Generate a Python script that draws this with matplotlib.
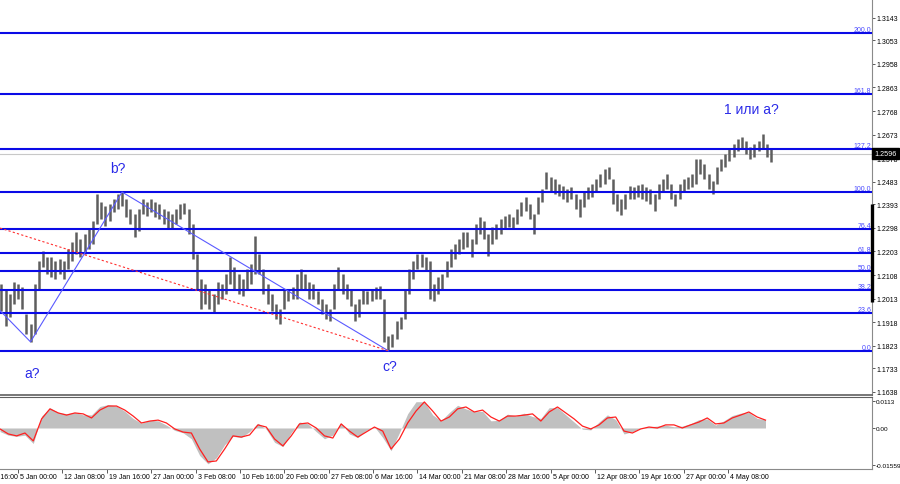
import numpy as np
import matplotlib.pyplot as plt
from matplotlib.transforms import blended_transform_factory, offset_copy

# half-day price bars (each one = 3 H4 bars)
highs = [1.2072, 1.2052, 1.2032, 1.2080, 1.2072, 1.2060, 1.1951, 1.1911, 1.2072, 1.2165,
         1.2205, 1.2181, 1.2181, 1.2165, 1.2173, 1.2165, 1.2213, 1.2241, 1.2281, 1.2253,
         1.2273, 1.2293, 1.2326, 1.2434, 1.2402, 1.2386, 1.2394, 1.2414, 1.2434, 1.2442,
         1.2414, 1.2374, 1.2354, 1.2374, 1.2414, 1.2402, 1.2414, 1.2402, 1.2394, 1.2374,
         1.2366, 1.2354, 1.2374, 1.2394, 1.2398, 1.2374, 1.2314, 1.2193, 1.2092, 1.2072,
         1.2052, 1.2032, 1.2080, 1.2072, 1.2112, 1.2181, 1.2141, 1.2112, 1.2092, 1.2132,
         1.2153, 1.2265, 1.2193, 1.2132, 1.2072, 1.2032, 1.1992, 1.1972, 1.2052, 1.2052,
         1.2060, 1.2112, 1.2132, 1.2112, 1.2080, 1.2072, 1.2044, 1.2012, 1.1992, 1.1972,
         1.2072, 1.2141, 1.2112, 1.2072, 1.2052, 1.1992, 1.2012, 1.2052, 1.2044, 1.2052,
         1.2060, 1.2064, 1.2012, 1.1863, 1.1871, 1.1923, 1.1939, 1.2052, 1.2132, 1.2165,
         1.2193, 1.2193, 1.2181, 1.2165, 1.2072, 1.2100, 1.2112, 1.2165, 1.2213, 1.2233,
         1.2253, 1.2281, 1.2281, 1.2253, 1.2314, 1.2342, 1.2326, 1.2273, 1.2302, 1.2314,
         1.2334, 1.2346, 1.2354, 1.2342, 1.2374, 1.2402, 1.2422, 1.2394, 1.2354, 1.2422,
         1.2454, 1.2523, 1.2503, 1.2495, 1.2475, 1.2467, 1.2454, 1.2462, 1.2434, 1.2414,
         1.2446, 1.2462, 1.2475, 1.2495, 1.2515, 1.2535, 1.2543, 1.2495, 1.2434, 1.2414,
         1.2434, 1.2467, 1.2462, 1.2471, 1.2475, 1.2462, 1.2454, 1.2434, 1.2475, 1.2495,
         1.2515, 1.2475, 1.2434, 1.2475, 1.2495, 1.2503, 1.2515, 1.2575, 1.2575, 1.2555,
         1.2515, 1.2487, 1.2543, 1.2575, 1.2595, 1.2615, 1.2636, 1.2656, 1.2664, 1.2648,
         1.2623, 1.2636, 1.2648, 1.2676, 1.2636, 1.2615]
lows = [1.1964, 1.1903, 1.1939, 1.1992, 1.2012, 1.1972, 1.1871, 1.1839, 1.1871, 1.2052,
        1.2141, 1.2112, 1.2100, 1.2092, 1.2112, 1.2092, 1.2132, 1.2165, 1.2193, 1.2181,
        1.2193, 1.2213, 1.2233, 1.2314, 1.2334, 1.2306, 1.2326, 1.2362, 1.2374, 1.2386,
        1.2342, 1.2314, 1.2261, 1.2285, 1.2354, 1.2346, 1.2362, 1.2342, 1.2334, 1.2314,
        1.2293, 1.2293, 1.2314, 1.2334, 1.2354, 1.2273, 1.2173, 1.2052, 1.1972, 1.1992,
        1.1972, 1.1959, 1.1992, 1.2012, 1.2032, 1.2072, 1.2052, 1.2032, 1.2024, 1.2052,
        1.2072, 1.2112, 1.2112, 1.2032, 1.1992, 1.1964, 1.1931, 1.1911, 1.1972, 1.2004,
        1.2012, 1.2012, 1.2052, 1.2052, 1.2012, 1.2012, 1.1992, 1.1951, 1.1931, 1.1923,
        1.1972, 1.2052, 1.2032, 1.2012, 1.1984, 1.1923, 1.1939, 1.1992, 1.1992, 1.2004,
        1.2012, 1.2012, 1.1839, 1.1803, 1.1819, 1.1851, 1.1891, 1.1931, 1.2032, 1.2092,
        1.2132, 1.2141, 1.2124, 1.2012, 1.2004, 1.2032, 1.2052, 1.2100, 1.2141, 1.2173,
        1.2193, 1.2213, 1.2221, 1.2181, 1.2233, 1.2273, 1.2253, 1.2185, 1.2233, 1.2253,
        1.2273, 1.2293, 1.2302, 1.2293, 1.2314, 1.2346, 1.2366, 1.2334, 1.2273, 1.2354,
        1.2402, 1.2454, 1.2446, 1.2434, 1.2426, 1.2414, 1.2402, 1.2414, 1.2374, 1.2342,
        1.2382, 1.2414, 1.2422, 1.2446, 1.2462, 1.2475, 1.2495, 1.2394, 1.2366, 1.2350,
        1.2374, 1.2414, 1.2414, 1.2422, 1.2414, 1.2406, 1.2394, 1.2366, 1.2414, 1.2442,
        1.2454, 1.2414, 1.2386, 1.2414, 1.2442, 1.2454, 1.2462, 1.2475, 1.2515, 1.2495,
        1.2454, 1.2434, 1.2475, 1.2527, 1.2543, 1.2567, 1.2583, 1.2607, 1.2615, 1.2595,
        1.2575, 1.2583, 1.2607, 1.2615, 1.2583, 1.2563]

# MACD sampled once per day (6 H4 bars)
macd_main = [-0.0015, -0.0030, -0.0035, -0.0030, -0.0065, 0.0050, 0.0085, 0.0065, 0.0060, 0.0065,
             0.0055, 0.0055, 0.0090, 0.0098, 0.0092, 0.0070, 0.0040, 0.0020, 0.0032, 0.0030,
             0.0012, -0.0010, -0.0020, -0.0045, -0.0115, -0.0150, -0.0125, -0.0070, -0.0035, -0.0040,
             -0.0015, 0.0020, -0.0005, -0.0060, -0.0078, -0.0020, 0.0025, 0.0018, -0.0015, -0.0045,
             -0.0030, 0.0022, -0.0025, -0.0040, -0.0010, 0.0005, -0.0040, -0.0095, -0.0020, 0.0060,
             0.0110, 0.0110, 0.0055, 0.0030, 0.0065, 0.0095, 0.0080, 0.0068, 0.0070, 0.0030,
             0.0032, 0.0058, 0.0050, 0.0062, 0.0048, 0.0040, 0.0085, 0.0085, 0.0055, 0.0025,
             -0.0005, -0.0008, 0.0025, 0.0055, 0.0035, -0.0025, -0.0015, 0.0000, 0.0005, 0.0008,
             0.0012, 0.0005, 0.0008, 0.0018, 0.0035, 0.0038, 0.0012, 0.0030, 0.0052, 0.0062,
             0.0065, 0.0040, 0.0035]
macd_signal = [-0.0004, -0.0025, -0.0033, -0.0021, -0.0054, 0.0038, 0.0080, 0.0063, 0.0054, 0.0063,
               0.0059, 0.0042, 0.0075, 0.0092, 0.0092, 0.0075, 0.0050, 0.0021, 0.0029, 0.0033,
               0.0021, -0.0004, -0.0017, -0.0021, -0.0088, -0.0142, -0.0138, -0.0088, -0.0033, -0.0038,
               -0.0029, 0.0013, 0.0004, -0.0046, -0.0075, -0.0033, 0.0017, 0.0021, 0.0000, -0.0033,
               -0.0042, 0.0017, -0.0013, -0.0038, -0.0017, 0.0004, -0.0013, -0.0088, -0.0046, 0.0021,
               0.0071, 0.0109, 0.0071, 0.0029, 0.0046, 0.0080, 0.0088, 0.0067, 0.0075, 0.0046,
               0.0029, 0.0050, 0.0050, 0.0054, 0.0059, 0.0029, 0.0067, 0.0088, 0.0063, 0.0038,
               0.0008, -0.0004, 0.0013, 0.0042, 0.0046, -0.0013, -0.0021, -0.0004, 0.0004, 0.0000,
               0.0013, 0.0013, 0.0000, 0.0013, 0.0025, 0.0042, 0.0017, 0.0021, 0.0042, 0.0054,
               0.0067, 0.0046, 0.0033]

fib_ratios = [0.0, 23.6, 38.2, 50.0, 61.8, 76.4, 100.0, 127.2, 161.8, 200.0]
price_ticks = [1.3143, 1.3053, 1.2958, 1.2863, 1.2768, 1.2673, 1.2578, 1.2483, 1.2393,
               1.2298, 1.2203, 1.2108, 1.2013, 1.1918, 1.1823, 1.1733, 1.1638]
bid = 1.2596
wave_start = 1.1965      # zigzag enters from the left edge here
channel_start = 1.2297   # red dotted line, left edge
time_labels = ["30 Dec 16:00", "5 Jan 00:00", "12 Jan 08:00", "19 Jan 16:00", "27 Jan 00:00",
               "3 Feb 08:00", "10 Feb 16:00", "20 Feb 00:00", "27 Feb 08:00", "6 Mar 16:00",
               "14 Mar 00:00", "21 Mar 08:00", "28 Mar 16:00", "5 Apr 00:00", "12 Apr 08:00",
               "19 Apr 16:00", "27 Apr 00:00", "4 May 08:00"]

plt.rcParams['font.family'] = ['Liberation Sans', 'DejaVu Sans']

W, H = 900, 485
XMAX = 628.8  # visible H4 bars
fig = plt.figure(figsize=(W / 100, H / 100), dpi=100)
ax = fig.add_axes([0, 1 - 396 / H, 872 / W, 396 / H])
axm = fig.add_axes([0, 1 - 470 / H, 872 / W, 72 / H])

# ---- price panel
bx = np.arange(len(highs)) * 3 + 1
ax.vlines(bx, lows, highs, color='#5e5e5e', lw=1.8)

fib_lo, fib_hi = lows[93], highs[29]
for r in fib_ratios:
    lvl = fib_lo + (fib_hi - fib_lo) * r / 100
    ax.axhline(lvl, color='#0a0ae6', lw=1.5, zorder=3)
    ax.text(XMAX - 0.5, lvl, "%.1f" % r, color='#4a4aff', fontsize=5,
            ha='right', va='bottom', zorder=4)
ax.axhline(bid, color='#c8c8c8', lw=0.8, zorder=1)

ax.plot([0, bx[7], bx[29], bx[93]], [wave_start, lows[7], highs[29], lows[93]],
        color='#5a5aff', lw=0.8, zorder=4)
ax.plot([0, bx[93]], [channel_start, lows[93]], color='#ff3030', lw=0.8,
        ls=(0, (2, 2)), zorder=4)

wcol = '#2a2ae8'
ax.text(23, 1.1714, "a?", color=wcol, fontsize=10, ha='center', va='center')
ax.text(85, 1.2539, "b?", color=wcol, fontsize=10, ha='center', va='center')
ax.text(281, 1.1742, "c?", color=wcol, fontsize=10, ha='center', va='center')
ax.text(542, 1.2776, "1 или a?", color=wcol, fontsize=10, ha='center', va='center')

ax.yaxis.tick_right()
ax.set_yticks(price_ticks)
ax.set_yticklabels(["%.4f" % t for t in price_ticks])
ax.tick_params(axis='y', direction='out', length=2, width=0.6, color='#404040',
               pad=1.5, labelsize=5)
ax.set_xticks([])
ax.set_xlim(0, XMAX)
ax.set_ylim(1.1625, 1.3219)
for s in ['top', 'left']:
    ax.spines[s].set_visible(False)
ax.spines['right'].set_color('#8a8a8a')
ax.spines['bottom'].set_color('#606060')
ax.spines['bottom'].set_linewidth(1.2)

tr = blended_transform_factory(ax.transAxes, ax.transData)
ax.plot([1, 1], [1.2000, 1.2394], transform=tr, color='black', lw=2.4,
        solid_capstyle='butt', clip_on=False, zorder=5)
ax.text(1.003, bid, "1.2596", transform=tr, color='white', fontsize=5.2,
        ha='left', va='center', zorder=6,
        bbox=dict(boxstyle='square,pad=0.3', fc='black', ec='black'))

# ---- MACD panel
mx = np.arange(len(macd_main)) * 6
axm.fill_between(mx, 0, macd_main, color='#c0c0c0', lw=0)
axm.plot(mx, macd_signal, color='#ff2020', lw=0.9)
axm.yaxis.tick_right()
axm.set_yticks([0.0113, 0.0, -0.01559])
axm.set_yticklabels(["0.0113", "0.00", "-0.01559"])
axm.tick_params(axis='y', direction='out', length=2, width=0.6, color='#404040',
                pad=1, labelsize=4.6)
tick_pos = [13 + 32 * (k - 1) for k in range(len(time_labels))]
axm.set_xticks(tick_pos[1:])
axm.set_xticklabels([])
axm.tick_params(axis='x', direction='out', length=3, width=0.6, color='#404040')
axm.set_xlim(0, XMAX)
axm.set_ylim(-0.01716, 0.01297)
axm.spines['left'].set_visible(False)
axm.spines['top'].set_color('#606060')
axm.spines['right'].set_color('#8a8a8a')
axm.spines['bottom'].set_color('#8a8a8a')

trm = offset_copy(blended_transform_factory(axm.transData, axm.transAxes),
                  fig=fig, x=2, y=-4, units='dots')
for p, lab in zip(tick_pos, time_labels):
    axm.text(p, 0, lab, transform=trm, fontsize=5, ha='left', va='top', clip_on=False)

fig.savefig('out.png', dpi=100)
